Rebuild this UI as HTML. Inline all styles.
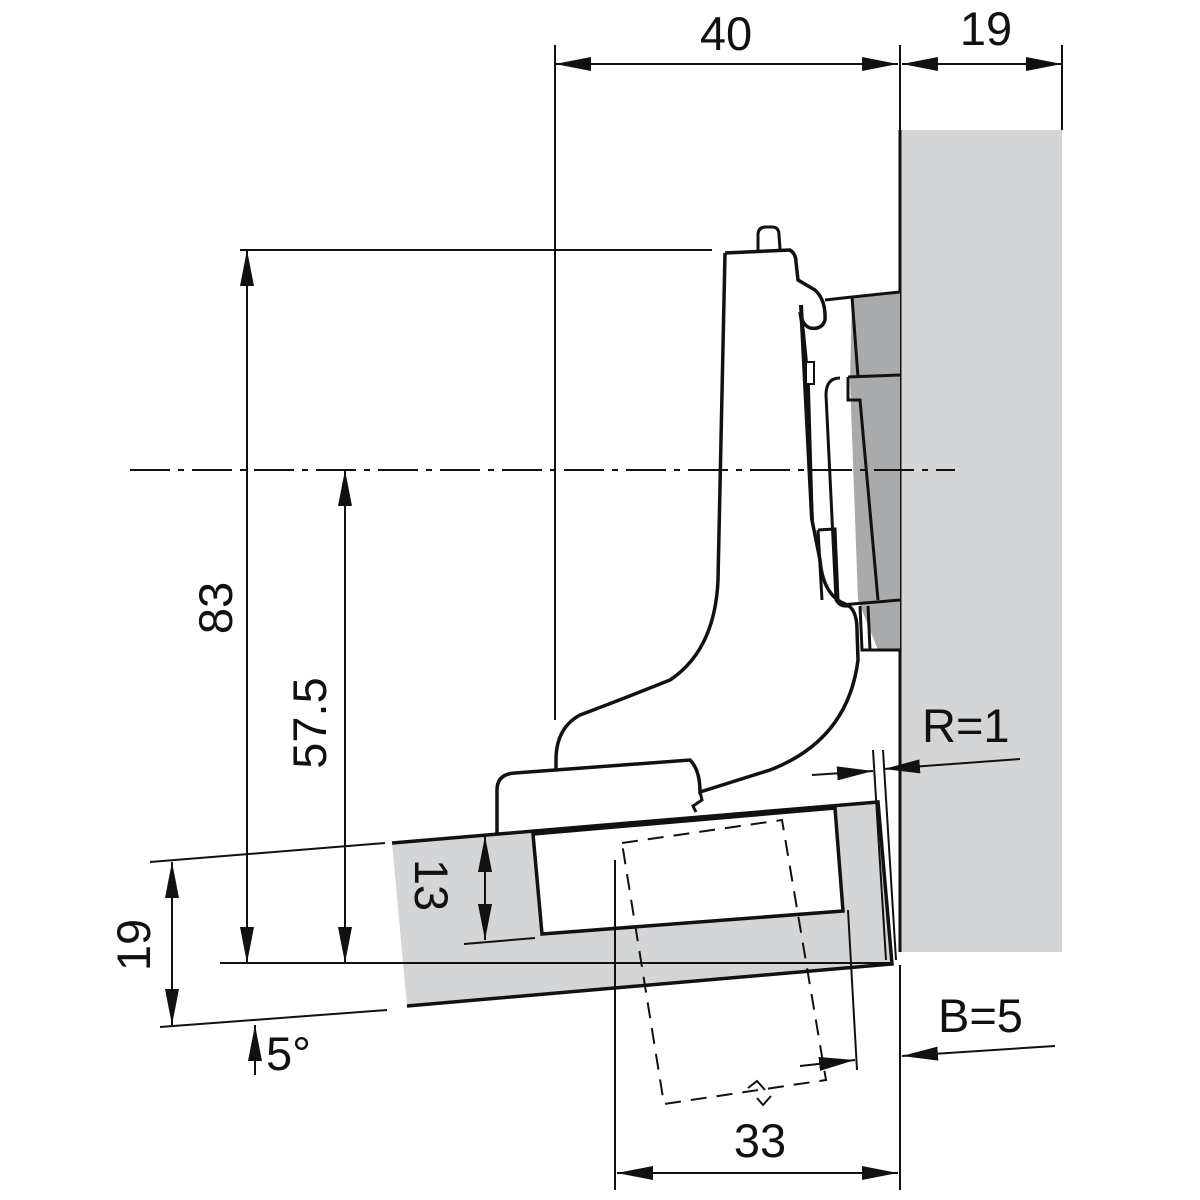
<!DOCTYPE html>
<html><head><style>
html,body{margin:0;padding:0;background:#fff;}
svg{display:block;}
text{font-family:"Liberation Sans",sans-serif;font-size:47px;fill:#111;}
</style></head><body>
<svg width="1200" height="1200" viewBox="0 0 1200 1200" xmlns="http://www.w3.org/2000/svg">
<defs>
<marker id="a" viewBox="0 0 36 14" refX="36" refY="7" markerWidth="36" markerHeight="14" markerUnits="userSpaceOnUse" orient="auto"><path d="M0,0 L36,7 L0,14 z" fill="#111"/></marker>
<marker id="s" viewBox="0 0 36 14" refX="0" refY="7" markerWidth="36" markerHeight="14" markerUnits="userSpaceOnUse" orient="auto"><path d="M36,0 L0,7 L36,14 z" fill="#111"/></marker>
</defs>
<!-- cabinet side -->
<rect x="900" y="130" width="162" height="822" fill="#d4d5d7"/>
<line x1="900" y1="130" x2="900" y2="952" stroke="#111" stroke-width="3"/>
<!-- door -->
<polygon points="392,843 878,802 892,964 407,1006" fill="#d4d5d7"/>
<polyline points="392,843 878,802 892,964 407,1006" fill="none" stroke="#111" stroke-width="3.5"/>
<polygon points="533,834 835,808 843,911 542,934" fill="#fff" stroke="#111" stroke-width="3.5"/>
<!-- mounting plate -->
<polygon points="852,297 900,292 900,650 878,650 858,600 850,380" fill="#a9aaac"/>
<polyline points="825,300 852,297 900,292" fill="none" stroke="#111" stroke-width="3"/>
<path d="M852,297 L858,377 M848,377 L900,375 M848,377 L848,400 L860,400 L878,600 M840,605 L900,600 M860,606 L862,650 L900,650 M868,606 L870,650" fill="none" stroke="#111" stroke-width="3"/>
<path d="M840,378 Q826,378 826,395 L836,600 Q840,607 848,606" fill="none" stroke="#111" stroke-width="3"/>
<path d="M818,530 L835,529 L838,600 M818,530 L822,600" fill="none" stroke="#111" stroke-width="3"/>
<!-- hinge arm -->
<path d="M725,253 L790,250 Q796,254 796,262 L798,280 L815,290 Q826,300 825,320 Q822,330 810,328 Q802,325 800,312 L803,330 L808,380 L812,520 L820,560 Q823,595 845,604 Q857,608 857,630 L858,660 Q848,740 770,770 L700,792 Q700,770 690,760 L515,773 Q497,774 497,790 L497,835" fill="none" stroke="#111" stroke-width="3.5"/>
<path d="M725,253 L718,580 Q715,650 670,680 Q620,700 580,715 Q556,728 556,760 L556,770" fill="none" stroke="#111" stroke-width="3.5"/>
<path d="M700,792 L702,800 L693,806 L696,812" fill="none" stroke="#111" stroke-width="3"/>
<path d="M758,250 L758,235 Q758,227 766,227 L772,227 Q779,227 779,235 L780,249" fill="none" stroke="#111" stroke-width="3"/>
<path d="M801,305 L812,520" stroke="#111" stroke-width="4"/>
<rect x="806" y="362" width="8" height="22" fill="#fff" stroke="#111" stroke-width="2"/>
<!-- dashed cup -->
<polygon points="622,843 782,820 826,1080 664,1104" fill="none" stroke="#111" stroke-width="2" stroke-dasharray="16,10"/>
<path d="M748,1088 L757,1081 L765,1090 M757,1098 L763,1105 L771,1096" fill="none" stroke="#111" stroke-width="2"/>
<!-- centerline -->
<line x1="130" y1="470" x2="955" y2="470" stroke="#111" stroke-width="2" stroke-dasharray="40,8,6,8"/>
<!-- dims -->
<g stroke="#111" stroke-width="2" fill="none">
<line x1="555" y1="45" x2="555" y2="720"/>
<line x1="900" y1="45" x2="900" y2="130"/>
<line x1="1062" y1="45" x2="1062" y2="130"/>
<line x1="555" y1="64" x2="898" y2="64" marker-start="url(#s)" marker-end="url(#a)"/>
<line x1="902" y1="64" x2="1062" y2="64" marker-start="url(#s)" marker-end="url(#a)"/>
<line x1="240" y1="250" x2="712" y2="250"/>
<line x1="247" y1="250" x2="247" y2="963" marker-start="url(#s)" marker-end="url(#a)"/>
<line x1="345" y1="470" x2="345" y2="963" marker-start="url(#s)" marker-end="url(#a)"/>
<line x1="220" y1="963" x2="890" y2="963"/>
<line x1="150" y1="862" x2="385" y2="843"/>
<line x1="160" y1="1027" x2="387" y2="1010"/>
<line x1="172" y1="862" x2="172" y2="1025" marker-start="url(#s)" marker-end="url(#a)"/>
<line x1="255" y1="1075" x2="255" y2="1025" marker-end="url(#a)"/>
<line x1="485" y1="836" x2="485" y2="940" marker-start="url(#s)" marker-end="url(#a)"/>
<line x1="464" y1="944" x2="535" y2="938"/>
<line x1="873" y1="750" x2="886" y2="960"/>
<line x1="883" y1="750" x2="896" y2="960"/>
<line x1="812" y1="775" x2="873" y2="771" marker-end="url(#a)"/>
<line x1="1020" y1="759" x2="884" y2="769" marker-end="url(#a)"/>
<line x1="848" y1="910" x2="857" y2="1070"/>
<line x1="900" y1="965" x2="900" y2="1190"/>
<line x1="615" y1="860" x2="615" y2="1190"/>
<line x1="800" y1="1066" x2="855" y2="1060" marker-end="url(#a)"/>
<line x1="1055" y1="1046" x2="902" y2="1056" marker-end="url(#a)"/>
<line x1="617" y1="1173" x2="898" y2="1173" marker-start="url(#s)" marker-end="url(#a)"/>
</g>
<text x="726" y="50" text-anchor="middle">40</text>
<text x="986" y="45" text-anchor="middle">19</text>
<text transform="translate(232,608) rotate(-90)" text-anchor="middle">83</text>
<text transform="translate(326,723) rotate(-90)" text-anchor="middle">57.5</text>
<text transform="translate(150,945) rotate(-90)" text-anchor="middle">19</text>
<text transform="translate(415,885) rotate(90)" text-anchor="middle">13</text>
<text x="266" y="1070">5°</text>
<text x="922" y="742">R=1</text>
<text x="938" y="1032">B=5</text>
<text x="760" y="1157" text-anchor="middle">33</text>
</svg>
</body></html>
